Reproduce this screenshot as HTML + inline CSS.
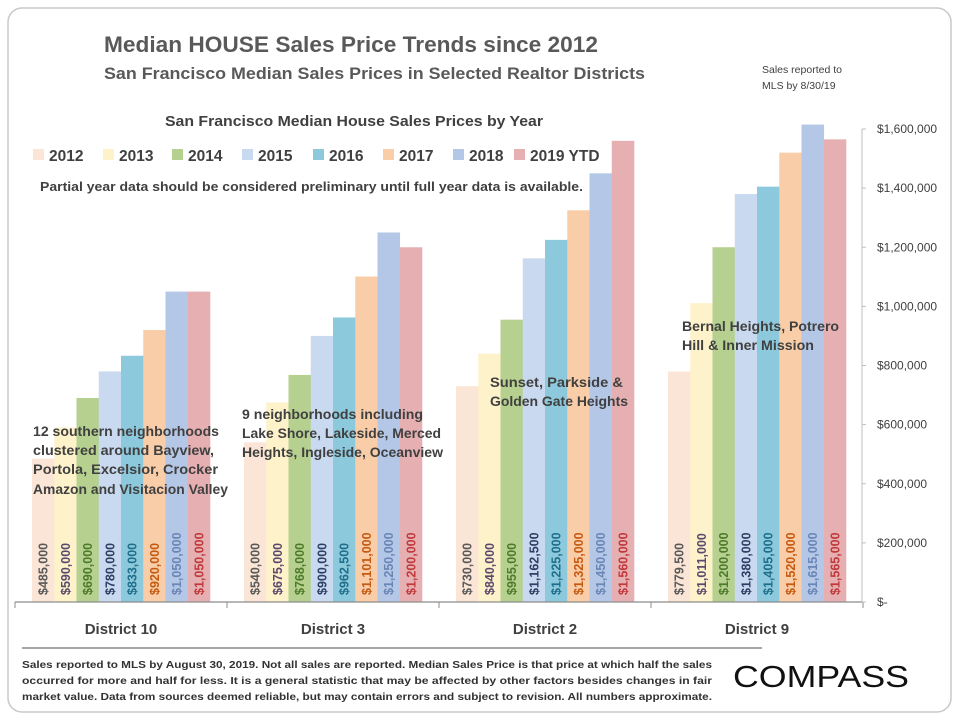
<!DOCTYPE html>
<html><head><meta charset="utf-8"><style>
body{margin:0;width:960px;height:720px;background:#fff;font-family:"Liberation Sans",sans-serif;overflow:hidden}
</style></head><body>
<svg width="960" height="720" viewBox="0 0 960 720" xmlns="http://www.w3.org/2000/svg" id="chart">
<rect x="8" y="8" width="943" height="704" rx="14" fill="#fff" stroke="#c8c8c8" stroke-width="1.5"/>
<text x="104" y="52" font-size="22" font-weight="bold" fill="#595959" textLength="494" lengthAdjust="spacingAndGlyphs">Median HOUSE Sales Price Trends since 2012</text>
<text x="104" y="79" font-size="17" font-weight="bold" fill="#595959" textLength="541" lengthAdjust="spacingAndGlyphs">San Francisco Median Sales Prices in Selected Realtor Districts</text>
<text x="762" y="73" font-size="10.5" fill="#404040">Sales reported to</text>
<text x="762" y="89" font-size="10.5" fill="#404040">MLS by 8/30/19</text>
<g id="bars"></g>
<g id="axis"></g>
<text x="165" y="126" font-size="15" font-weight="bold" fill="#404040" textLength="378" lengthAdjust="spacingAndGlyphs">San Francisco Median House Sales Prices by Year</text>
<g id="legend"></g>
<text x="40" y="191" font-size="13" font-weight="bold" fill="#404040" textLength="543" lengthAdjust="spacingAndGlyphs">Partial year data should be considered preliminary until full year data is available.</text>
<g font-size="13.5" font-weight="bold" fill="#404040">
<text><tspan x="33" y="436" textLength="186" lengthAdjust="spacingAndGlyphs">12 southern neighborhoods</tspan><tspan x="33" y="455" textLength="181" lengthAdjust="spacingAndGlyphs">clustered around Bayview,</tspan><tspan x="33" y="474" textLength="185" lengthAdjust="spacingAndGlyphs">Portola, Excelsior, Crocker</tspan><tspan x="33" y="494" textLength="195" lengthAdjust="spacingAndGlyphs">Amazon and Visitacion Valley</tspan></text>
<text><tspan x="242" y="419" textLength="181" lengthAdjust="spacingAndGlyphs">9 neighborhoods including</tspan><tspan x="242" y="438" textLength="199" lengthAdjust="spacingAndGlyphs">Lake Shore, Lakeside, Merced</tspan><tspan x="242" y="457" textLength="201" lengthAdjust="spacingAndGlyphs">Heights, Ingleside, Oceanview</tspan></text>
<text><tspan x="490" y="387" textLength="133" lengthAdjust="spacingAndGlyphs">Sunset, Parkside &amp;</tspan><tspan x="490" y="406" textLength="138" lengthAdjust="spacingAndGlyphs">Golden Gate Heights</tspan></text>
<text><tspan x="682" y="331" textLength="157" lengthAdjust="spacingAndGlyphs">Bernal Heights, Potrero</tspan><tspan x="682" y="350" textLength="132" lengthAdjust="spacingAndGlyphs">Hill &amp; Inner Mission</tspan></text>
</g>
<line x1="22" y1="648" x2="762" y2="648" stroke="#a6a6a6" stroke-width="2"/>
<g font-size="10" font-weight="bold" fill="#333" font-family="Liberation Sans Narrow, Liberation Sans, sans-serif">
<text x="22" y="668" textLength="690" lengthAdjust="spacingAndGlyphs">Sales reported to MLS by August 30, 2019. Not all sales are reported. Median Sales Price is that price at which half the sales</text>
<text x="22" y="684" textLength="690" lengthAdjust="spacingAndGlyphs">occurred for more and half for less. It is a general statistic that may be affected by other factors besides changes in fair</text>
<text x="22" y="700" textLength="690" lengthAdjust="spacingAndGlyphs">market value. Data from sources deemed reliable, but may contain errors and subject to revision.  All numbers approximate.</text>
</g>
<text x="733" y="687" font-size="31" fill="#111" textLength="176" lengthAdjust="spacingAndGlyphs">COMPASS</text>
</svg>
<script>
const districts=["District 10","District 3","District 2","District 9"];
const years=["2012","2013","2014","2015","2016","2017","2018","2019 YTD"];
const v2012=[485000,540000,730000,779500];
const v2013=[590000,675000,840000,1011000];
const v2014=[690000,768000,955000,1200000];
const v2015=[780000,900000,1162500,1380000];
const v2016=[833000,962500,1225000,1405000];
const v2017=[920000,1101000,1325000,1520000];
const v2018=[1050000,1250000,1450000,1615000];
const v2019=[1050000,1200000,1560000,1565000];
const yTicks=[0,200000,400000,600000,800000,1000000,1200000,1400000,1600000];
const series=[v2012,v2013,v2014,v2015,v2016,v2017,v2018,v2019];
const fills=["#fbe5d6","#fef2cb","#b5d08f","#c9d9ef","#8dc9dd","#f9cda8","#b4c7e7","#e6b0b3"];
const lcol=["#595959","#5b4a6e","#4e7a2a","#2e3f66","#1f6f8b","#c55a11","#6a86b5","#c0393b"];
const NS="http://www.w3.org/2000/svg";
const y0=602,yTop=129,vmax=1600000,gx0=15,gw=212,bw=22.25,gpad=17,axX=862;
const ys=v=>y0-(v/vmax)*(y0-yTop);
const xs=(g,s)=>gx0+g*gw+gpad+s*bw;
function mk(t,a,p){const e=document.createElementNS(NS,t);for(const k in a)e.setAttribute(k,a[k]);p.appendChild(e);return e;}
const fmt=v=>"$"+v.toLocaleString("en-US");
const bars=document.getElementById("bars"),axis=document.getElementById("axis"),leg=document.getElementById("legend");
series.forEach((ser,s)=>{ser.forEach((v,g)=>{
 const r=mk("rect",{x:xs(g,s),y:ys(v),width:bw+0.3,height:y0-ys(v),fill:fills[s]},bars);
 
 
 const cx=xs(g,s)+bw/2+4.5;
 const t=mk("text",{x:cx,y:595,transform:`rotate(-90 ${cx} 595)`,"font-size":"12.5","font-weight":"bold",fill:lcol[s]},bars);
 t.textContent=fmt(v);
 
 
});});
const bl=mk("line",{x1:gx0,y1:y0,x2:axX,y2:y0,stroke:"#8c8c8c","stroke-width":1.2},axis);


mk("line",{x1:axX,y1:yTop,x2:axX,y2:y0,stroke:"#bfbfbf","stroke-width":1},axis);
for(let g=0;g<=4;g++){mk("line",{x1:gx0+g*gw,y1:y0,x2:gx0+g*gw,y2:y0+6,stroke:"#8c8c8c"},axis);}
districts.forEach((d,g)=>{const t=mk("text",{x:gx0+g*gw+gw/2,y:634,"text-anchor":"middle","font-size":"15","font-weight":"bold",fill:"#404040"},axis);t.textContent=d;
 
 });
yTicks.forEach(v=>{mk("line",{x1:axX,y1:ys(v),x2:axX+4,y2:ys(v),stroke:"#bfbfbf"},axis);
 const t=mk("text",{x:axX+15,y:ys(v)+4,"font-size":"12",fill:"#404040"},axis);t.textContent=v===0?"$-":fmt(v);
 
 });
const lx=[33,103,172,242,313,383,453,514];
years.forEach((y,i)=>{mk("rect",{x:lx[i],y:149,width:11,height:11,fill:fills[i]},leg);
 const t=mk("text",{x:lx[i]+16,y:161,"font-size":"15.5","font-weight":"bold",fill:"#404040"},leg);t.textContent=y;
 
 });
</script>
</body></html>
